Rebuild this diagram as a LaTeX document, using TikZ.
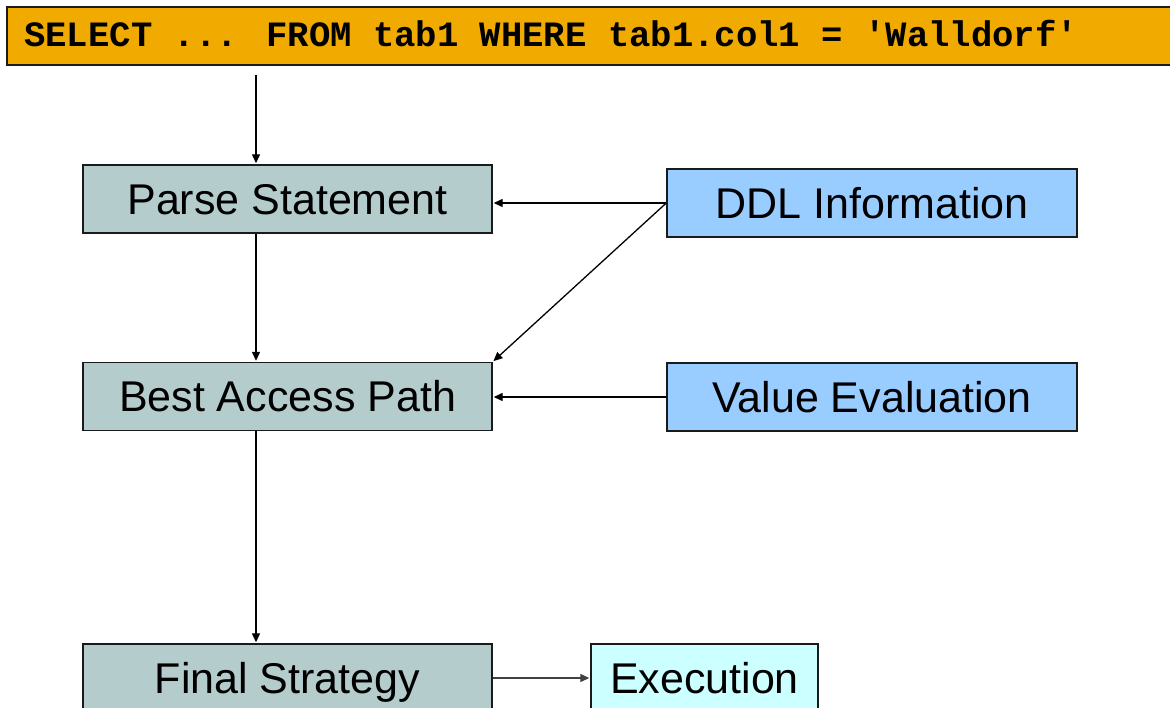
\documentclass[tikz,border=0pt]{standalone}
\usepackage{fontspec}
\setmainfont{Liberation Sans}
\newfontfamily\monob{Liberation Mono}
\usetikzlibrary{arrows.meta}
\definecolor{barorange}{HTML}{F0AA00}
\definecolor{stepgray}{HTML}{B4CCCC}
\definecolor{infoblue}{HTML}{99CCFF}
\definecolor{execcyan}{HTML}{CCFFFF}
\definecolor{edgedark}{HTML}{1A1A1A}
\tikzset{
  box/.style={draw=edgedark, line width=1.4pt, rectangle, inner sep=0pt,
    minimum width=409pt, minimum height=68pt, font=\fontsize{43}{48}\selectfont,
    text height=31pt, text depth=0pt},
  stepbox/.style={box, fill=stepgray},
  infobox/.style={box, fill=infoblue, minimum width=410pt},
  conn/.style={line width=1.3pt, draw=black, -{Triangle[length=9pt,width=8pt]}, shorten >=1pt},
}
\begin{document}
\begin{tikzpicture}[x=1pt,y=-1pt]
\useasboundingbox (0,0) rectangle (1170,708);
\fill[white] (0,0) rectangle (1170,708);
% top bar
\path[fill=barorange, draw=edgedark, line width=1.4pt] (7,7) rectangle (1180,65);
\node[anchor=base west, inner sep=0pt, font=\monob\bfseries\fontsize{35.6}{40}\selectfont] (sql) at (24,47) {SELECT ... FROM tab1 WHERE tab1.col1 = 'Walldorf'};
\coordinate (start) at (256,75);
% boxes
\node[stepbox] (parse) at (287.5,199) {Parse Statement};
\node[stepbox] (best) at (287.5,396.5) {Best Access Path};
\node[stepbox] (final) at (287.5,678) {Final Strategy};
\node[infobox] (ddl) at (872,203) {DDL Information};
\node[infobox] (val) at (872,397) {Value Evaluation};
\node[box, fill=execcyan, minimum width=227pt] (exec) at (704.5,678) {Execution};
% connectors
\draw[conn] (start) -- (start |- parse.north);
\draw[conn] (parse.south -| start) -- (best.north -| start);
\draw[conn] (best.south -| start) -- (final.north -| start);
\draw[conn] (ddl.west) -- (ddl.west -| parse.east);
\draw[conn] (ddl.west) -- (best.north east);
\draw[conn] (val.west) -- (val.west -| best.east);
\draw[conn, draw=black!75] (final.east) -- (exec.west);
\end{tikzpicture}
\end{document}
